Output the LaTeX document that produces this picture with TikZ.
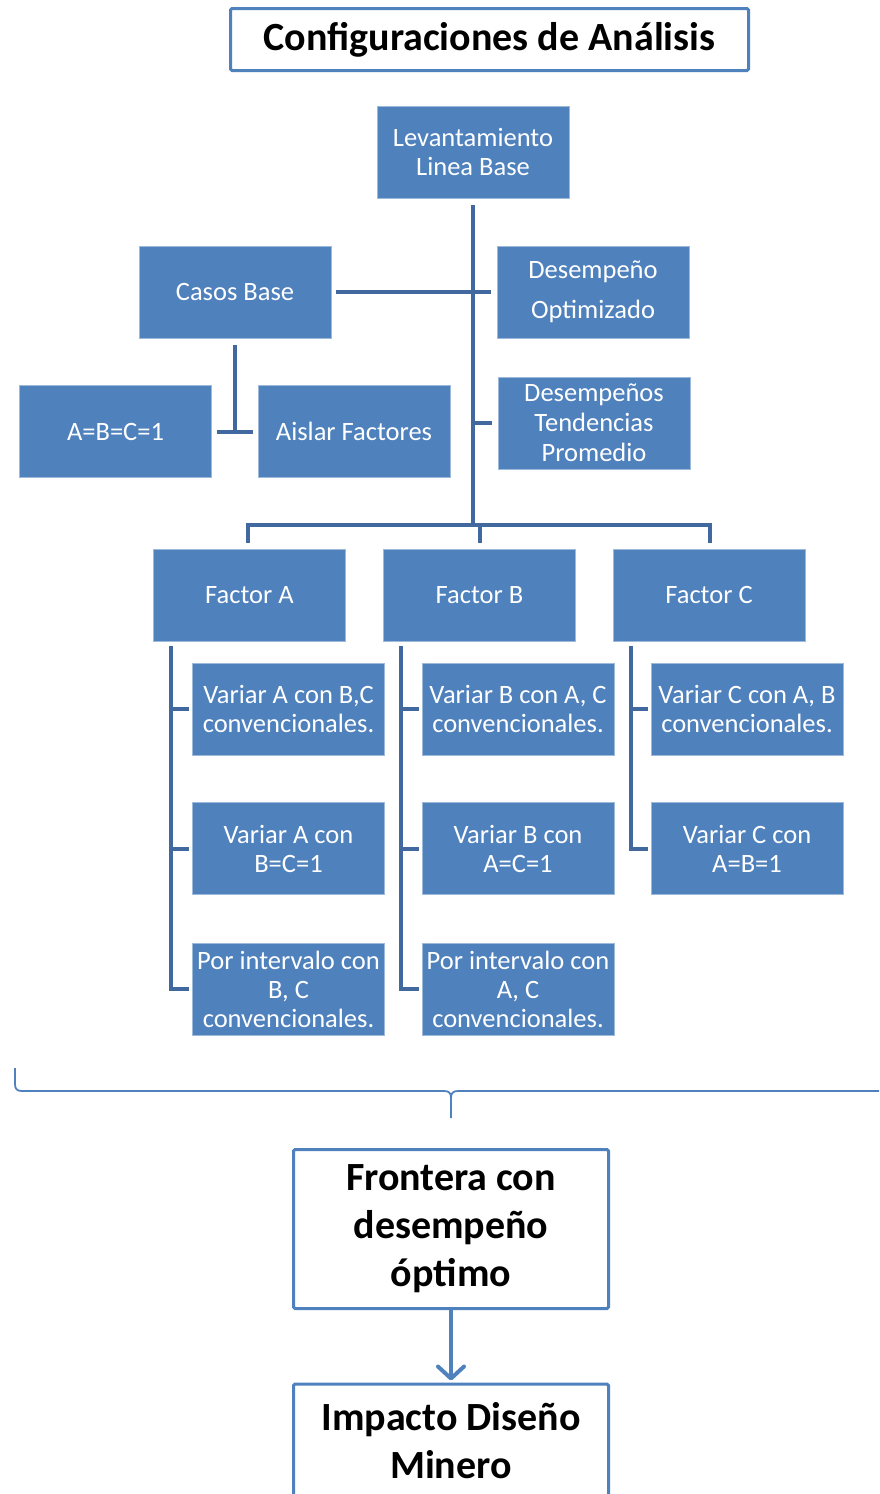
\documentclass[tikz,border=0pt]{standalone}
\usepackage{fontspec}
\setmainfont{Carlito}
\usetikzlibrary{arrows.meta, calc}
\definecolor{cajaazul}{RGB}{79,129,189}
\definecolor{lineaazul}{RGB}{65,105,160}
\tikzset{
  caja/.style={fill=cajaazul, draw=cajaazul!55!white, line width=0.8pt, text=white,
    minimum width=192pt, minimum height=92pt, align=center, inner sep=2pt,
    font=\fontsize{26.5}{29}\selectfont},
  marco/.style={fill=white, draw=cajaazul, line width=3pt, rounded corners=1.5pt,
    align=center, inner sep=2pt, font=\bfseries\fontsize{40}{48}\selectfont},
  rama/.style={draw=lineaazul, line width=4pt},
  llave/.style={draw=cajaazul, line width=1.8pt},
}
\begin{document}
\begin{tikzpicture}[x=1pt, y=-1pt]
  \clip (0,0) rectangle (879,1494);

     % -------------------------
     % Title and root
     % -------------------------
      \node[marco, minimum width=518pt, minimum height=62pt, font=\bfseries\fontsize{40}{44}\selectfont]
        (titulo) at (489.5,39.5) {Configuraciones de Análisis};
      \node[caja] (levant) at (473,152) {Levantamiento\\Linea Base};

      % Upper branches
      \node[caja] (casos) at (235,292) {Casos Base};
      \node[caja, font=\fontsize{26.5}{40}\selectfont] (desopt) at (593,292) {Desempeño\\Optimizado};
      \node[caja, font=\fontsize{26.5}{30}\selectfont] (destend) at (594,423) {Desempeños\\Tendencias\\Promedio};
      \node[caja] (abc) at (115.5,431.5) {A=B=C=1};
      \node[caja] (aislar) at (354,431.5) {Aislar Factores};

      % Factors
      \node[caja] (facA) at (249.5,595) {Factor A};
      \node[caja] (facB) at (479.5,595) {Factor B};
      \node[caja] (facC) at (709,595) {Factor C};

      % Children of factor A
      \node[caja] (a1) at (288.5,709) {Variar A con B,C\\convencionales.};
      \node[caja] (a2) at (288.5,848.5) {Variar A con\\B=C=1};
      \node[caja] (a3) at (288.5,989) {Por intervalo con\\B, C\\convencionales.};
      % Children of factor B
      \node[caja] (b1) at (518,709) {Variar B con A, C\\convencionales.};
      \node[caja] (b2) at (518,848.5) {Variar B con\\A=C=1};
      \node[caja] (b3) at (518,989) {Por intervalo con\\A, C\\convencionales.};
      % Children of factor C
      \node[caja] (c1) at (747,709) {Variar C con A, B\\convencionales.};
      \node[caja] (c2) at (747,848.5) {Variar C con\\A=B=1};

      % Result boxes
      \node[marco, minimum width=315pt, minimum height=159pt] (frontera) at (451,1229)
        {Frontera con\\desempeño\\óptimo};
      \node[marco, minimum width=315pt, minimum height=114pt] (impacto) at (451,1441)
        {Impacto Diseño\\Minero};

     % -------------------------
     % Connectors
     % -------------------------
      \coordinate (bus) at (473,525);
      \draw[rama] ($(levant.south)+(0,7)$) -- (bus);
      \draw[rama] ($(casos.east)+(5,0)$) -- ($(desopt.west)+(-6,0)$);
      \draw[rama] ($(destend.west)+(-6,0)$) -- (473,423);

      % Casos Base split
      \draw[rama] ($(casos.south)+(0,7)$) -- (235,432);
      \draw[rama] ($(abc.east)+(5,0)$) -- ($(aislar.west)+(-5,0)$);

      % Bus to factors
      \draw[rama] ($(facA.north)+(-1.5,-6)$) |- ($(facC.north)+(1,-24)$) -- ($(facC.north)+(1,-6)$);
      \draw[rama] ($(facB.north)+(0,-6)$) -- ($(facB.north)+(0,-24)$);

      % Factor trees
      \draw[rama] ($(facA.south west)+(18,5)$) |- ($(a3.west)+(-3,0)$);
      \draw[rama] ($(facB.south west)+(18,5)$) |- ($(b3.west)+(-3,0)$);
      \draw[rama] ($(facC.south west)+(18,5)$) |- ($(c2.west)+(-3,0)$);
      \foreach \n in {a1,a2,b1,b2,c1}
        \draw[rama] ($(\n.west)+(-21,0)$) -- ($(\n.west)+(-3,0)$);

      % Brace
      \draw[llave] (15,1068) -- (15,1084) .. controls (15,1089) and (17,1091) .. (22,1091)
        -- (444,1091) .. controls (449,1091) and (451,1093) .. (451,1098) -- (451,1118);
      \draw[llave] (451,1098) .. controls (451,1093) and (453,1091) .. (458,1091) -- (890,1091);

      % Arrow
      \draw[draw=cajaazul, line width=4pt, line cap=round,
        -{Straight Barb[length=12pt, width=26pt, round]}]
        (frontera.south) -- ($(impacto.north)+(0,-2)$);
\end{tikzpicture}
\end{document}
